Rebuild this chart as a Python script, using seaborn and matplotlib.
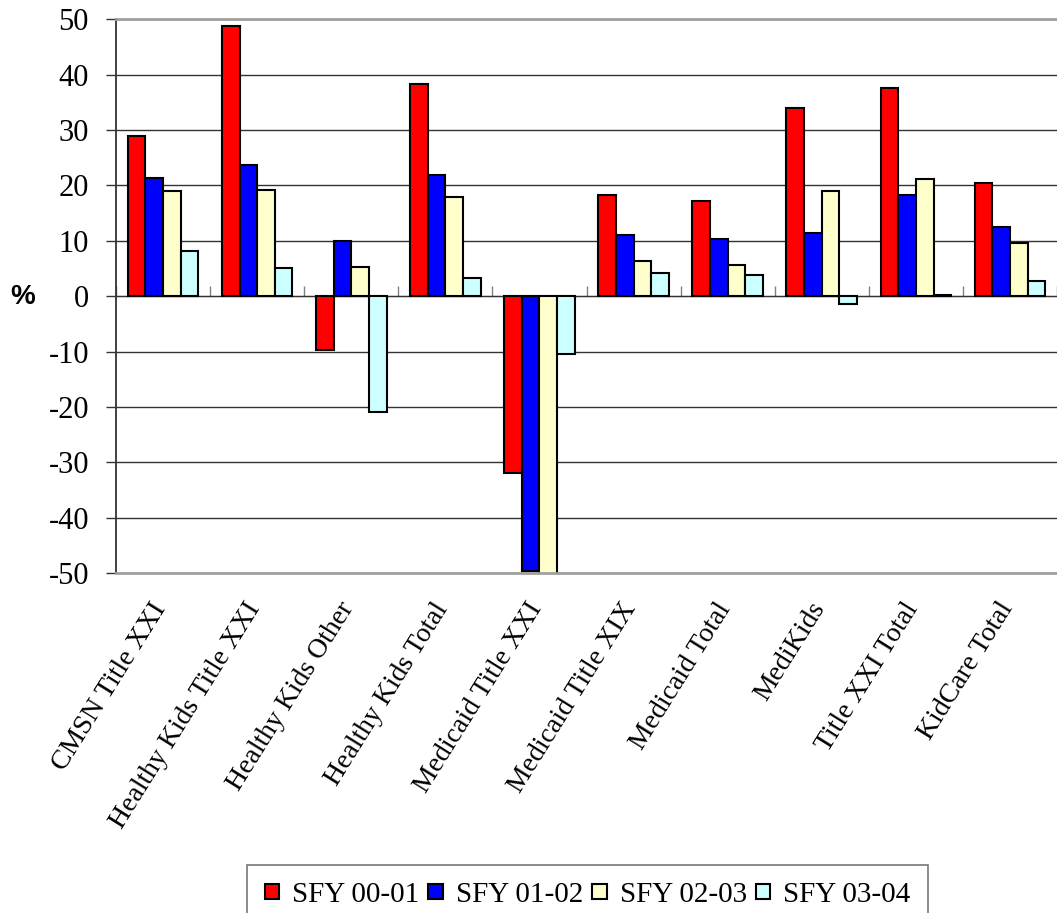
import matplotlib
matplotlib.use("Agg")
import matplotlib.pyplot as plt
import matplotlib.transforms as mtransforms
import seaborn as sns
import pandas as pd

# Data (percent change)
programs = ['CMSN Title XXI', 'Healthy Kids Title XXI', 'Healthy Kids Other',
            'Healthy Kids Total', 'Medicaid Title XXI', 'Medicaid Title XIX',
            'Medicaid Total', 'MediKids', 'Title XXI Total', 'KidCare Total']
years = ['SFY 00-01', 'SFY 01-02', 'SFY 02-03', 'SFY 03-04']
sfy_00_01 = [28.9, 48.7, -9.8, 38.3, -32.0, 18.2, 17.1, 34.0, 37.6, 20.4]
sfy_01_02 = [21.4, 23.6, 10.0, 21.8, -49.6, 11.0, 10.3, 11.4, 18.2, 12.5]
sfy_02_03 = [18.9, 19.2, 5.3, 17.9, -52.0, 6.4, 5.7, 18.9, 21.1, 9.6]
sfy_03_04 = [8.2, 5.0, -20.9, 3.2, -10.5, 4.2, 3.9, -1.5, 0.2, 2.8]
colors = ['#ff0000', '#0000ff', '#ffffcc', '#ccffff']

rows = []
for year, vals in zip(years, [sfy_00_01, sfy_01_02, sfy_02_03, sfy_03_04]):
    for p, v in zip(programs, vals):
        rows.append({'Program': p, 'Year': year, 'Change': v})
df = pd.DataFrame(rows)

sns.set_style("white")
plt.rcParams['font.family'] = ['Liberation Serif', 'DejaVu Serif']
plt.rcParams['axes.unicode_minus'] = False
plt.rcParams['text.color'] = 'black'
plt.rcParams['xtick.color'] = 'black'
plt.rcParams['ytick.color'] = 'black'

fig = plt.figure(figsize=(10.57, 9.13), dpi=100)
ax = fig.add_axes([0.1098, 0.3724, 0.8902, 0.6065])

sns.barplot(data=df, x='Program', y='Change', hue='Year', palette=colors,
            saturation=1, edgecolor='black', linewidth=1.5, width=0.75, ax=ax)

ax.set_ylim(-50, 50)
ax.set_xlim(-0.5, len(programs) - 0.5)
ax.set_yticks(range(-50, 51, 10))
ax.yaxis.grid(True, color='#333333', linewidth=1)
ax.set_axisbelow(True)
ax.set_xlabel('')
ax.set_ylabel('')

# spines
ax.spines['right'].set_visible(False)
ax.spines['top'].set_color('#a0a0a0')
ax.spines['top'].set_linewidth(2)
ax.spines['bottom'].set_color('#a0a0a0')
ax.spines['bottom'].set_linewidth(2)
ax.spines['left'].set_color('#333333')
ax.spines['left'].set_linewidth(1.3)

ax.tick_params(axis='y', direction='out', length=7.5, width=1, color='#333333',
               labelcolor='black', labelsize=22, pad=12, left=True)
ax.tick_params(axis='x', length=0, labelsize=20, pad=18, labelcolor='black')
ax.set_xticks(range(len(programs)))
ax.set_xticklabels(programs, rotation=58, ha='right', rotation_mode='anchor')
shift = mtransforms.ScaledTranslation(-13 / 100, 0, fig.dpi_scale_trans)
for lbl in ax.get_xticklabels():
    lbl.set_transform(lbl.get_transform() + shift)

# zero line with category separators
sec = ax.secondary_xaxis(0.5)
sec.set_xticks([i - 0.5 for i in range(len(programs) + 1)])
sec.set_xticklabels([])
sec.tick_params(direction='out', length=7, width=1, color='#808080')
sec.spines['bottom'].set_color('#808080')
sec.spines['bottom'].set_linewidth(1.5)

# y label
fig.text(0.021, 1 - 297 / 913, '%', fontsize=20, fontweight='bold',
         family='Liberation Sans', color='black', ha='center', va='center')

# legend
handles, labels = ax.get_legend_handles_labels()
ax.legend_.remove()
leg = fig.legend(handles, labels, loc='upper center', ncol=4,
                 bbox_to_anchor=(0.556, 0.053), borderaxespad=0, fontsize=21,
                 frameon=True, fancybox=False, edgecolor='#555555',
                 handlelength=0.5, handleheight=0.42, handletextpad=0.45,
                 columnspacing=0.3, borderpad=0.6)
leg.get_frame().set_linewidth(1.2)
for h in leg.legend_handles:
    h.set_edgecolor('black')
    h.set_linewidth(1.5)

fig.savefig('out.png', dpi=100)
